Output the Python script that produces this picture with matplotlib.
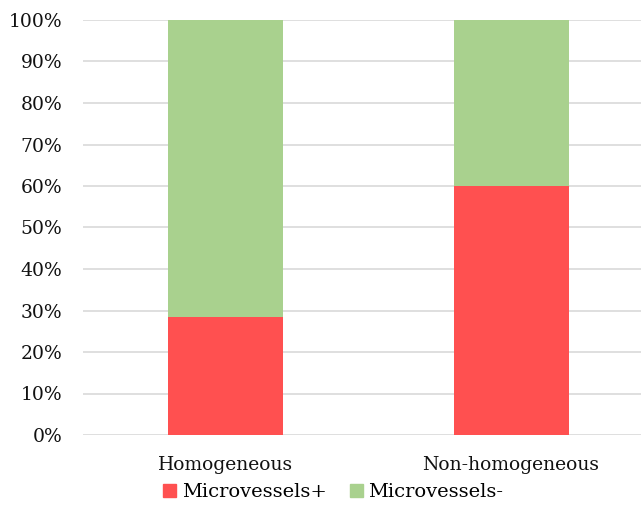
import numpy as np
import matplotlib
matplotlib.use("Agg")
import matplotlib.pyplot as plt
from matplotlib.patches import Patch

# porcentaje de casos por tipo de lesion
categorias = ["Homogeneous", "Non-homogeneous"]
micro_pos = [28.4, 60.0]
micro_neg = [71.6, 40.0]
etiquetas = ["Microvessels+", "Microvessels-"]

plt.rcParams["font.family"] = ["DejaVu Serif"]

fig = plt.figure(figsize=(6.41, 5.08), dpi=100)
ax = fig.add_axes([83 / 641, 73 / 508, 558 / 641, 415 / 508])

x = np.arange(len(categorias))
ancho = 0.403
ax.bar(x, micro_pos, ancho, color="#FF5050", zorder=3)
ax.bar(x, micro_neg, ancho, bottom=micro_pos, color="#A9D18E", zorder=3)

ax.set_xlim(-0.499, 1.455)
ax.set_ylim(0, 100)
ax.set_yticks(np.arange(0, 101, 10))
ax.set_yticklabels([f"{v}%" for v in range(0, 101, 10)])
ax.set_xticks(x)
ax.set_xticklabels(categorias)
ax.tick_params(axis="both", length=0, labelsize=13.5, colors="#111111")
ax.tick_params(axis="y", pad=15)
ax.tick_params(axis="x", pad=15)
ax.yaxis.grid(True, color="#D9D9D9", linewidth=1.2, zorder=0)
for s in ax.spines.values():
    s.set_visible(False)

# leyenda debajo del grafico
handles = [Patch(color="#FF5050"), Patch(color="#A9D18E")]
fig.legend(handles, etiquetas, loc="center", bbox_to_anchor=(0.52, 16 / 508), ncol=2,
           frameon=False, fontsize=14, handlelength=0.65, handleheight=0.65,
           handletextpad=0.3, columnspacing=1.2)

fig.savefig("out.png", dpi=100)
